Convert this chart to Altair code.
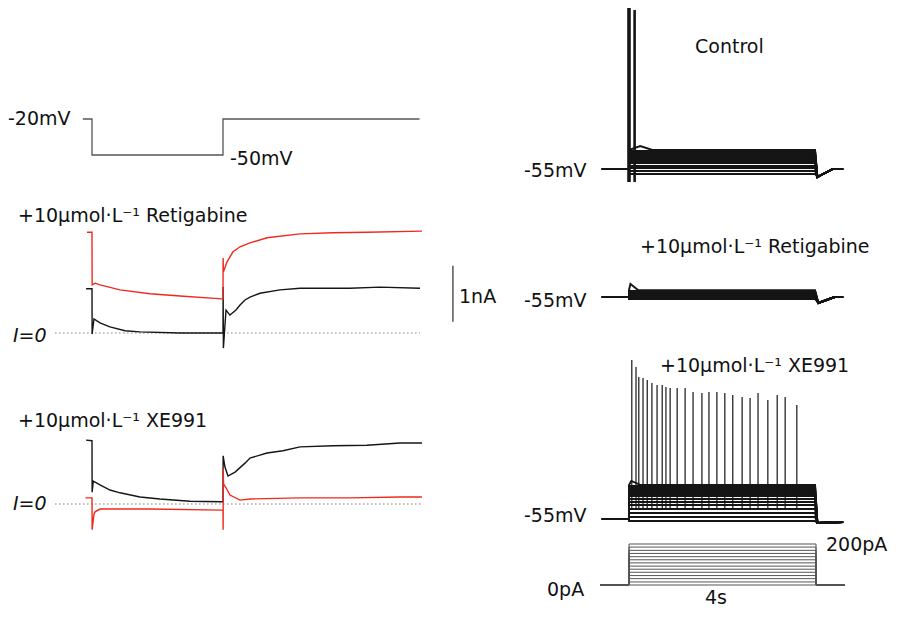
import altair as alt
import pandas as pd

# ======================= DATA =======================
# Left: voltage-clamp protocol (time ms, membrane potential mV)
proto_t = [-70, 0, 0, 1000, 1000, 2500]
proto_v = [-20, -20, -50, -50, -20, -20]

# Left, Retigabine panel: current (nA); black = before drug, red = +Retigabine
ret_ctl_t = [-45, 0, 1, 15, 61, 137, 252, 366, 672, 992, 1000, 1001, 1003, 1023, 1053,
             1099, 1130, 1168, 1206, 1282, 1435, 1588, 1969, 2198, 2504]
ret_ctl_i = [0.79, 0.79, -0.02, 0.25, 0.18, 0.11, 0.04, 0.02, 0.0, 0.0, 0.0, 0.82, -0.27,
             0.41, 0.32, 0.41, 0.50, 0.59, 0.64, 0.71, 0.77, 0.80, 0.80, 0.82, 0.80]
ret_drug_t = [-38, 0, 1, 23, 61, 214, 443, 672, 992, 1000, 1001, 1003, 1031, 1076, 1130,
              1206, 1336, 1588, 1840, 2099, 2519]
ret_drug_i = [1.80, 1.80, 0.86, 0.89, 0.86, 0.77, 0.70, 0.66, 0.61, 0.61, 1.34, 1.09, 1.27,
              1.45, 1.54, 1.61, 1.70, 1.77, 1.79, 1.80, 1.82]

# Left, XE991 panel: current (nA); black = before drug, red = +XE991
xe_ctl_t = [-45, 0, 1, 10, 61, 137, 214, 366, 519, 748, 992, 1000, 1001, 1015, 1038, 1092,
            1168, 1206, 1336, 1458, 1588, 1840, 2099, 2351, 2519]
xe_ctl_i = [1.14, 1.13, 0.21, 0.41, 0.34, 0.25, 0.20, 0.125, 0.09, 0.05, 0.04, 0.04, 0.86,
            0.66, 0.50, 0.57, 0.73, 0.82, 0.91, 0.95, 1.02, 1.04, 1.05, 1.09, 1.09]
xe_drug_t = [-50, 0, 1, 15, 23, 61, 443, 992, 1000, 1001, 1002, 1004, 1023, 1053, 1130,
             1206, 1588, 1969, 2351, 2519]
xe_drug_i = [0.11, 0.11, -0.46, -0.18, -0.14, -0.09, -0.09, -0.11, -0.11, -0.46, 0.64, 0.36,
             0.29, 0.16, 0.07, 0.09, 0.11, 0.11, 0.125, 0.125]

# Right: current-clamp step protocol (pA), 4 s steps
step_levels_pa = [0, 15, 31, 46, 62, 77, 92, 108, 123, 138, 154, 169, 185, 200]

# Right: steady membrane potential of each sweep during the step (mV)
ctl_levels = [-57.5, -56, -54.5, -53.5, -52, -51, -50, -49, -48.2, -47.5, -47, -46.5, -46, -45.5]
ret_levels = [-56, -55.6, -55.3, -55, -54.6, -54.3, -54, -53.6, -53.3, -53, -52.6, -52.3, -52, -51.6]
xe_levels = [-56, -54, -52, -50, -48, -46.5, -45, -43.5, -42.5, -41.5, -40.5, -39.5, -38.5, -38]

# after-step time course (s, mV) and onset hump of top sweep (s, mV, s back to level)
ctl_after_t, ctl_after_v = [4.03, 4.36, 4.58], [-59, -55, -55]
ret_after_t, ret_after_v = [4.05, 4.40, 4.58], [-58, -55, -55]
xe_after_t, xe_after_v = [4.03, 4.58], [-57, -56.5]
ctl_onset = (0.24, -43.5, 0.5)
ret_onset = (0.03, -48.5, 0.2)
xe_onset = (0.05, -36, 0.25)

# Action potentials (s, peak mV)
ctl_spike_t = [0.0, 0.12]
ctl_spike_peak = [27.0, 24.5]
ctl_spike_base = -61.5
xe_spike_t = [0.06, 0.15, 0.21, 0.30, 0.39, 0.49, 0.60, 0.71, 0.79, 0.88, 1.03, 1.20, 1.37,
              1.56, 1.71, 1.88, 2.05, 2.22, 2.42, 2.59, 2.76, 2.97, 3.17, 3.34, 3.59]
xe_spike_peak = [24.5, 21, 16, 15.5, 14.5, 13, 12, 12, 11, 10.5, 10.5, 10.5, 8.5, 8, 8.5, 8.5,
                 8, 7, 6, 5.5, 8, 4.5, 7, 6, 2]
xe_spike_base = -50

# ======================= LAYOUT (page pixels) =======================
W, H = 882, 601
LX0, LPX_MS = 92, 0.131           # left panels: x of t=0, px per ms
PROTO_Y20, LPX_MV = 119, 1.2      # left protocol: y at -20 mV, px per mV
RET_Y0, XE_Y0, PX_NA = 333, 504, 56
RX0, PX_S = 629, 46.75            # right panels: x of t=0, px per s
CTL_Y0, RETR_Y0, XER_Y0, RPX_MV = 169, 297, 519, 2.0
STIM_Y0, PX_PA = 585, 0.205

BLACK, RED, GRAY = "#151515", "#ee2a1e", "#555555"
FONT, FS = "DejaVu Sans", 19

rows = []
sid = [0]


def add(xs, ys, color, width):
    sid[0] += 1
    for k, (x, y) in enumerate(zip(xs, ys)):
        rows.append(dict(px=x, py=y, sid=sid[0], k=k, color=color, w=width))


lx = lambda ts: [LX0 + LPX_MS * t for t in ts]
rx = lambda ts: [RX0 + PX_S * t for t in ts]

# left protocol
add(lx(proto_t), [PROTO_Y20 + (-20 - v) * LPX_MV for v in proto_v], GRAY, 1.3)
# left currents
add(lx(ret_ctl_t), [RET_Y0 - PX_NA * i for i in ret_ctl_i], BLACK, 1.4)
add(lx(ret_drug_t), [RET_Y0 - PX_NA * i for i in ret_drug_i], RED, 1.4)
add(lx(xe_ctl_t), [XE_Y0 - PX_NA * i for i in xe_ctl_i], BLACK, 1.4)
add(lx(xe_drug_t), [XE_Y0 - PX_NA * i for i in xe_drug_i], RED, 1.4)
# scale bar 1 nA (retigabine panel)
add(lx([2755, 2755]), [RET_Y0 - PX_NA * 0.2, RET_Y0 - PX_NA * 1.2], GRAY, 1.5)

# right sweeps
for levels, y0, at, av, onset in [
    (ctl_levels, CTL_Y0, ctl_after_t, ctl_after_v, ctl_onset),
    (ret_levels, RETR_Y0, ret_after_t, ret_after_v, ret_onset),
    (xe_levels, XER_Y0, xe_after_t, xe_after_v, xe_onset),
]:
    for j, lvl in enumerate(levels):
        t = [-0.58, 0, 0]
        v = [-55, -55, lvl]
        if j == len(levels) - 1:
            t += [onset[0], onset[2]]
            v += [onset[1], lvl]
        t += [3.98] + at
        v += [lvl] + av
        add(rx(t), [y0 - (vv + 55) * RPX_MV for vv in v], BLACK, 1.9)

# stimulus protocol
for I in step_levels_pa:
    add(rx([-0.62, 0, 0, 4.0, 4.0, 4.62]),
        [STIM_Y0 - PX_PA * c for c in [0, 0, I, I, 0, 0]], GRAY, 1.0)

lines = pd.DataFrame(rows)

# dotted I=0 lines
dots = pd.DataFrame([
    dict(px=lx([-282])[0], px2=lx([2504])[0], py=RET_Y0),
    dict(px=lx([-282])[0], px2=lx([2519])[0], py=XE_Y0),
])

# spikes
sp = []
for t, p, w in zip(ctl_spike_t, ctl_spike_peak, [3.6, 2.6]):
    sp.append(dict(px=rx([t])[0], py=CTL_Y0 - (ctl_spike_base + 55) * RPX_MV,
                   py2=CTL_Y0 - (p + 55) * RPX_MV, w=w))
for t, p in zip(xe_spike_t, xe_spike_peak):
    sp.append(dict(px=rx([t])[0], py=XER_Y0 - (xe_spike_base + 55) * RPX_MV,
                   py2=XER_Y0 - (p + 55) * RPX_MV, w=1.2))
spikes = pd.DataFrame(sp)

title_ret = "+10\u03bcmol\u00b7L\u207b\u00b9 Retigabine"
title_xe = "+10\u03bcmol\u00b7L\u207b\u00b9 XE991"
labels = pd.DataFrame([
    dict(px=8, py=125, text="-20mV"),
    dict(px=230, py=165, text="-50mV"),
    dict(px=18, py=222, text=title_ret),
    dict(px=459, py=303, text="1nA"),
    dict(px=18, py=427, text=title_xe),
    dict(px=695, py=53, text="Control"),
    dict(px=524, py=177, text="-55mV"),
    dict(px=640, py=253, text=title_ret),
    dict(px=524, py=307, text="-55mV"),
    dict(px=660, py=372, text=title_xe),
    dict(px=524, py=522, text="-55mV"),
    dict(px=826, py=551, text="200pA"),
    dict(px=547, py=596, text="0pA"),
    dict(px=705, py=604, text="4s"),
])
ital = pd.DataFrame([
    dict(px=13, py=342, text="I=0"),
    dict(px=13, py=510, text="I=0"),
])

xs = alt.Scale(domain=[8, 8 + W])
ys = alt.Scale(domain=[8, 8 + H], reverse=True)
X = lambda f: alt.X(f, type="quantitative", scale=xs, axis=None)
Y = lambda f: alt.Y(f, type="quantitative", scale=ys, axis=None)

line_layer = alt.Chart(lines).mark_line(strokeJoin="miter", strokeCap="butt").encode(
    x=X("px"), y=Y("py"), detail="sid:N", order="k:Q",
    color=alt.Color("color:N", scale=None),
    strokeWidth=alt.StrokeWidth("w:Q", scale=None),
)
dot_layer = alt.Chart(dots).mark_rule(color="#808080", strokeWidth=1.2, strokeDash=[1.5, 2.5]).encode(
    x=X("px"), x2="px2:Q", y=Y("py"))
spike_layer = alt.Chart(spikes).mark_rule(color=BLACK).encode(
    x=X("px"), y=Y("py"), y2="py2:Q", strokeWidth=alt.StrokeWidth("w:Q", scale=None))
text_layer = alt.Chart(labels).mark_text(
    align="left", baseline="alphabetic", font=FONT, fontSize=FS, color="#111111"
).encode(x=X("px"), y=Y("py"), text="text:N")
ital_layer = alt.Chart(ital).mark_text(
    align="left", baseline="alphabetic", font=FONT, fontSize=FS,
    fontStyle="italic", color="#111111"
).encode(x=X("px"), y=Y("py"), text="text:N")

chart = alt.layer(dot_layer, line_layer, spike_layer, text_layer, ital_layer).properties(
    width=W, height=H, padding=0, autosize=alt.AutoSizeParams(type="none"),
    background="white",
).configure_view(stroke=None)

chart.save("out.html", embed_options={"renderer": "svg", "actions": False})
